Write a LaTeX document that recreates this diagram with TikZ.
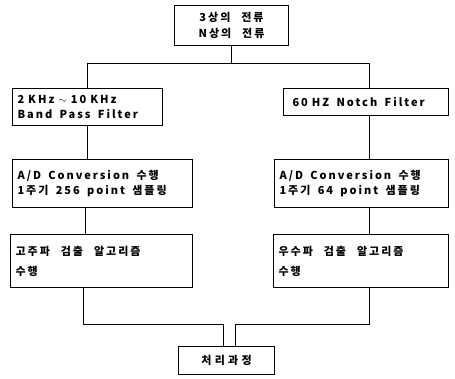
\documentclass[tikz,border=0pt]{standalone}
\usepackage{fontspec}
\setmainfont{Noto Sans CJK KR}
\usepackage{tikz}
\usetikzlibrary{positioning}

\begin{document}
\begin{tikzpicture}[x=1pt, y=-1pt,
    block/.style={rectangle, draw=black, line width=1.1pt, anchor=north west,
      font=\fontsize{11}{15}\selectfont\bfseries\addfontfeature{LetterSpace=18},
      align=left, inner xsep=5pt, inner ysep=2pt},
    wire/.style={draw=black, line width=1.2pt}
    ]
    \useasboundingbox (0,0) rectangle (455,378);
    \node[block, align=center, text width=104pt, minimum height=40pt] (Source) at (174,5) {
      3상의\ \ \ 전류 \\[1pt]
      N상의\ \ \ 전류
    };
    \node[block, text width=140pt, minimum height=37pt] (BandPass) at (12,88) {
      2\hspace{4pt}KHz\hspace{4pt}$\sim$\hspace{4pt}10\hspace{4pt}KHz \\
      Band\ \ Pass\ \ Filter
    };
    \node[block, inner xsep=9pt, text width=147pt, minimum height=27pt] (Notch) at (283,88) {
      60\hspace{4pt}HZ\ \ Notch\ \ Filter
    };
    \node[block, text width=170pt, minimum height=48pt] (SampleHigh) at (12,159) {
      A/D\ \ Conversion\ \ 수행 \\
      1주기\ \ 256\ \ point\ \ 샘플링
    };
    \node[block, text width=164pt, minimum height=48pt] (SampleLow) at (274,159) {
      A/D\ \ Conversion\ \ 수행 \\
      1주기\ \ 64\ \ point\ \ 샘플링
    };
    \node[block, text width=172pt, minimum height=53pt] (Harmonic) at (10,234) {
      고주파\ \ \ 검출\ \ \ 알고리즘 \\[5pt]
      수행
    };
    \node[block, text width=165pt, minimum height=53pt] (EvenWave) at (273,234) {
      우수파\ \ \ 검출\ \ \ 알고리즘 \\[5pt]
      수행
    };
    \node[block, align=center, text width=86pt, minimum height=28pt,
      font=\fontsize{11}{15}\selectfont\bfseries\addfontfeature{LetterSpace=30}] (Process) at (178,346) {
      처리과정
    };
    \draw[wire] (Source.south) -- ++(0,17) -| (BandPass.north);
    \draw[wire] (Source.south) -- ++(0,17) -| ([xshift=3.5pt]Notch.north);
    \draw[wire] (BandPass.south) -- (BandPass.south |- SampleHigh.north);
    \draw[wire] ([xshift=3.5pt]Notch.south) -- ([xshift=3.5pt]Notch.south |- SampleLow.north);
    \draw[wire] ([xshift=-2pt]BandPass.south |- SampleHigh.south) -- ([xshift=-2pt]BandPass.south |- Harmonic.north);
    \draw[wire] ([xshift=3.5pt]Notch.south |- SampleLow.south) -- ([xshift=3.5pt]Notch.south |- EvenWave.north);
    \draw[wire] ([xshift=-4pt]BandPass.south |- Harmonic.south) -- ++(0,36) -| ([xshift=-3pt]Process.north);
    \draw[wire] ([xshift=3.5pt]Notch.south |- EvenWave.south) -- ++(0,36) -| ([xshift=9pt]Process.north);
\end{tikzpicture}
\end{document}
